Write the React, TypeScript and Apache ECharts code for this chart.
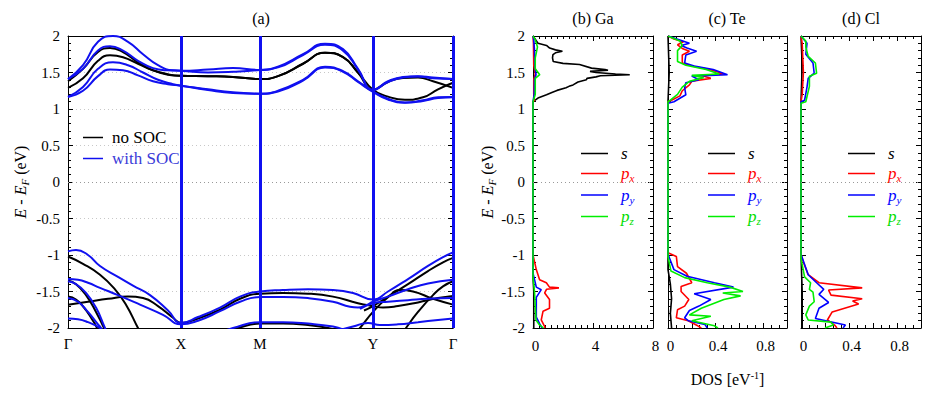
import React, { useEffect, useRef } from 'react';
import * as echarts from 'echarts';

const FONT = "'Liberation Serif', 'Times New Roman', serif";
const BLUE = '#1010f0';

// ---- band structure (k distance along path, energy eV) ----
const K_POS = [0, 113, 192, 305, 385];
const K_LABELS = ['Γ', 'X', 'M', 'Y', 'Γ'];
const V_LINES = [113, 192, 305, 385];

const NO_SOC_BANDS: number[][][] = [
  [[0,1.38],[15,1.55],[30,1.78],[42,1.835],[55,1.78],[70,1.64],[85,1.53],[100,1.47],[113,1.455],[140,1.45],[165,1.44],[192,1.41],[210,1.45],[235,1.62],[257,1.77],[275,1.71],[290,1.5],[305,1.265],[320,1.17],[337,1.127],[355,1.16],[370,1.27],[385,1.36]],
  [[0,1.29],[15,1.42],[30,1.66],[42,1.735],[55,1.71],[70,1.62],[85,1.53],[100,1.475],[113,1.455],[140,1.45],[165,1.44],[192,1.41],[210,1.45],[235,1.62],[257,1.77],[275,1.71],[290,1.5],[305,1.265],[320,1.37],[335,1.425],[350,1.43],[365,1.38],[385,1.29]],
  [[0,-1.02],[15,-1.12],[32,-1.27],[47,-1.47],[58,-1.68],[70,-2.0],[76,-2.15]],
  [[0,-1.35],[8,-1.40],[18,-1.55],[28,-1.78],[36,-2.0],[40,-2.15]],
  [[0,-1.57],[8,-1.61],[16,-1.72],[24,-1.88],[29,-2.0],[33,-2.15]],
  [[0,-1.68],[20,-1.64],[40,-1.60],[60,-1.57],[75,-1.59],[90,-1.70],[105,-1.86],[113,-1.93],[130,-1.87],[152,-1.75],[172,-1.60],[192,-1.53],[215,-1.52],[240,-1.53],[265,-1.57],[290,-1.66],[305,-1.70],[315,-1.72],[330,-1.70],[350,-1.65],[370,-1.59],[385,-1.56]],
  [[296,-1.76],[305,-1.70],[320,-1.57],[340,-1.40],[360,-1.22],[375,-1.10],[385,-1.04]],
  [[285,-2.1],[292,-2.0],[305,-1.78],[320,-1.58],[332,-1.48],[345,-1.5],[365,-1.6],[385,-1.68]],
  [[333,-2.1],[338,-2.0],[350,-1.78],[365,-1.55],[375,-1.43],[385,-1.36]],
  [[160,-2.05],[170,-2.0],[192,-1.94],[215,-1.94],[240,-1.96],[260,-2.0],[270,-2.05]],
];

const SOC_BANDS: number[][][] = [
  [[0,1.41],[15,1.6],[30,1.92],[45,2.0],[60,1.92],[75,1.75],[90,1.6],[105,1.53],[113,1.525],[140,1.54],[165,1.56],[192,1.535],[210,1.58],[235,1.75],[257,1.895],[275,1.82],[290,1.55],[305,1.265],[320,1.38],[335,1.44],[350,1.45],[365,1.43],[385,1.41]],
  [[0,1.41],[15,1.55],[30,1.8],[42,1.86],[55,1.8],[70,1.66],[85,1.56],[100,1.53],[113,1.525],[140,1.5],[165,1.51],[192,1.535],[210,1.57],[235,1.74],[257,1.88],[275,1.80],[290,1.54],[305,1.26],[320,1.37],[335,1.43],[350,1.445],[365,1.42],[385,1.41]],
  [[0,1.165],[15,1.3],[30,1.55],[45,1.64],[60,1.6],[75,1.5],[90,1.4],[105,1.34],[113,1.32],[140,1.26],[165,1.22],[192,1.21],[210,1.25],[235,1.4],[257,1.58],[275,1.52],[290,1.38],[305,1.24],[320,1.14],[337,1.09],[355,1.12],[370,1.16],[385,1.165]],
  [[0,1.165],[15,1.25],[30,1.45],[42,1.54],[55,1.53],[70,1.46],[85,1.38],[100,1.34],[113,1.32],[140,1.27],[165,1.23],[192,1.21],[210,1.24],[235,1.39],[257,1.57],[275,1.51],[290,1.37],[305,1.235],[320,1.13],[337,1.085],[355,1.11],[370,1.15],[385,1.16]],
  [[0,-0.95],[8,-0.93],[20,-1.0],[32,-1.15],[50,-1.3],[65,-1.42],[82,-1.55],[100,-1.76],[113,-1.93],[130,-1.85],[152,-1.72],[172,-1.57],[192,-1.50],[215,-1.48],[240,-1.47],[265,-1.48],[285,-1.52],[305,-1.61],[320,-1.50],[340,-1.33],[360,-1.15],[375,-1.03],[385,-0.965]],
  [[0,-1.33],[10,-1.34],[20,-1.38],[32,-1.45],[50,-1.55],[72,-1.68],[95,-1.82],[113,-1.95],[130,-1.90],[152,-1.77],[172,-1.64],[192,-1.575],[215,-1.575],[240,-1.59],[265,-1.64],[282,-1.71],[290,-1.72],[298,-1.69],[305,-1.64],[320,-1.57],[340,-1.47],[360,-1.39],[385,-1.34]],
  [[292,-1.74],[305,-1.66],[320,-1.64],[340,-1.62],[360,-1.60],[385,-1.59]],
  [[0,-1.36],[8,-1.40],[18,-1.52],[28,-1.72],[37,-2.0],[42,-2.15]],
  [[0,-1.59],[10,-1.64],[20,-1.78],[30,-1.95],[33,-2.0],[38,-2.15]],
  [[0,-1.87],[10,-1.88],[20,-1.92],[32,-2.0],[40,-2.1]],
  [[155,-2.05],[165,-2.0],[192,-1.92],[215,-1.92],[240,-1.94],[265,-1.98],[275,-2.02]],
  [[265,-2.05],[285,-1.98],[300,-1.93],[312,-1.96],[330,-1.95],[350,-1.92],[370,-1.89],[385,-1.87]],
];

// ---- projected DOS: [DOS, energy] ----
const GA_S = [[0,2.0],[0.33,1.9],[0.9,1.87],[1.11,1.835],[1.5,1.81],[1.96,1.79],[1.5,1.77],[1.33,1.745],[1.3,1.70],[1.35,1.65],[2.0,1.625],[3.1,1.61],[3.9,1.56],[4.8,1.54],[5.0,1.53],[3.8,1.515],[4.2,1.50],[5.5,1.48],[6.45,1.47],[4.5,1.455],[4.2,1.44],[3.6,1.42],[3.56,1.40],[3.0,1.37],[2.67,1.33],[2.4,1.31],[2.2,1.29],[1.6,1.255],[1.3,1.23],[0.9,1.195],[0.33,1.15],[0,1.10],[0,-1.3],[0.05,-1.5],[0.05,-2.0]];
const GA_PX = [[0,2.0],[0.03,1.9],[0.05,1.6],[0.15,1.48],[0.05,1.4],[0.05,1.2],[0.1,1.12],[0,1.1],[0,-1.0],[0.22,-1.2],[0.44,-1.34],[0.89,-1.38],[1.1,-1.44],[1.73,-1.45],[0.9,-1.47],[0.78,-1.52],[1.1,-1.61],[1.1,-1.73],[0.67,-1.77],[0.55,-1.89],[0.78,-1.98],[0.8,-2.0]];
const GA_PY = [[0,2.0],[0.05,1.95],[0.1,1.8],[0.12,1.6],[0.2,1.47],[0.1,1.4],[0.08,1.2],[0,1.1],[0,-1.25],[0.22,-1.44],[0.55,-1.475],[0.22,-1.58],[0.22,-1.85],[0.44,-1.94],[0.6,-2.0]];
const GA_PZ = [[0,2.0],[0.15,1.95],[0.3,1.85],[0.15,1.7],[0.15,1.55],[0.45,1.47],[0.15,1.42],[0.15,1.2],[0,1.1],[0,-1.3],[0.1,-1.5],[0.2,-1.89],[0.4,-1.95],[0.7,-2.0]];

const TE_S = [[0,2],[0.01,1.5],[0,1.1],[0,-1.2],[0.02,-1.4],[0.03,-1.6],[0.02,-1.8],[0.03,-2.0]];
const TE_PX = [[0,2.0],[0.05,1.96],[0.13,1.92],[0.08,1.88],[0.12,1.83],[0.18,1.79],[0.12,1.74],[0.12,1.63],[0.2,1.59],[0.35,1.54],[0.47,1.48],[0.28,1.46],[0.36,1.42],[0.2,1.38],[0.18,1.33],[0.12,1.25],[0.1,1.18],[0.03,1.12],[0,1.1],[0,-0.97],[0.07,-1.02],[0.08,-1.16],[0.155,-1.25],[0.2,-1.38],[0.11,-1.43],[0.11,-1.50],[0.175,-1.61],[0.14,-1.70],[0.08,-1.75],[0.07,-1.86],[0.17,-1.90],[0.25,-1.97],[0.28,-2.0]];
const TE_PY = [[0,2.0],[0.18,1.90],[0.11,1.87],[0.16,1.835],[0.24,1.79],[0.15,1.74],[0.14,1.63],[0.22,1.59],[0.38,1.54],[0.50,1.47],[0.2,1.45],[0.26,1.40],[0.15,1.36],[0.14,1.29],[0.15,1.195],[0.05,1.10],[0,1.08],[0,-0.99],[0.05,-1.2],[0.16,-1.29],[0.39,-1.38],[0.55,-1.44],[0.22,-1.53],[0.36,-1.61],[0.26,-1.70],[0.18,-1.76],[0.14,-1.86],[0.17,-1.9],[0.31,-1.95],[0.33,-2.0]];
const TE_PZ = [[0,2.0],[0.1,1.93],[0.12,1.87],[0.08,1.8],[0.08,1.65],[0.15,1.6],[0.32,1.54],[0.43,1.48],[0.2,1.46],[0.3,1.43],[0.18,1.38],[0.12,1.3],[0.08,1.2],[0.02,1.12],[0,1.1],[0,-1.02],[0.025,-1.22],[0.14,-1.31],[0.33,-1.38],[0.52,-1.44],[0.63,-1.50],[0.46,-1.52],[0.61,-1.56],[0.47,-1.61],[0.28,-1.73],[0.18,-1.82],[0.36,-1.84],[0.2,-1.9],[0.39,-1.97],[0.42,-2.0]];

const CL_S = [[0,2],[0.01,1.6],[0,1.1],[0,-1.0],[0.01,-1.5],[0.01,-2.0]];
const CL_PX = [[0,2.0],[0.01,1.9],[0.02,1.5],[0.01,1.2],[0,1.1],[0,-0.99],[0.02,-1.1],[0.06,-1.27],[0.15,-1.38],[0.51,-1.45],[0.23,-1.48],[0.25,-1.55],[0.51,-1.60],[0.43,-1.63],[0.48,-1.67],[0.26,-1.78],[0.22,-1.89],[0.28,-1.96],[0.3,-2.0]];
const CL_PY = [[0,2.0],[0.05,1.9],[0.04,1.75],[0.1,1.63],[0.11,1.49],[0.06,1.42],[0.05,1.3],[0.03,1.12],[0,1.1],[0,-0.99],[0.06,-1.27],[0.13,-1.38],[0.19,-1.47],[0.15,-1.54],[0.23,-1.65],[0.15,-1.73],[0.12,-1.87],[0.37,-1.96],[0.35,-2.0]];
const CL_PZ = [[0,2.0],[0.04,1.93],[0.04,1.85],[0.06,1.72],[0.12,1.63],[0.13,1.49],[0.07,1.45],[0.07,1.31],[0.04,1.10],[0,1.08],[0,-1.05],[0.03,-1.3],[0.08,-1.38],[0.07,-1.47],[0.1,-1.51],[0.11,-1.64],[0.07,-1.7],[0.04,-1.82],[0.06,-1.89],[0.25,-1.92],[0.27,-1.96],[0.2,-2.0]];

const ORBITALS = ['s', 'px', 'py', 'pz'];
const ORB_COLORS = ['#000000', '#ff0000', '#0000ff', '#00ee00'];
const DOS_PANELS = [
  { title: '(b) Ga', max: 8, interval: 4, minor: 10, labels: [0, 4, 8], data: [GA_S, GA_PX, GA_PY, GA_PZ] },
  { title: '(c) Te', max: 1, interval: 0.2, minor: 3, labels: [0, 0.4, 0.8], data: [TE_S, TE_PX, TE_PY, TE_PZ] },
  { title: '(d) Cl', max: 1, interval: 0.2, minor: 3, labels: [0, 0.4, 0.8], data: [CL_S, CL_PX, CL_PY, CL_PZ] },
];

const GRIDS = [
  { left: 68, top: 36, width: 385, height: 292 },
  { left: 533, top: 36, width: 120, height: 292 },
  { left: 668, top: 36, width: 119, height: 292 },
  { left: 801, top: 36, width: 120, height: 292 },
];
const TITLE_X = [261, 593, 727, 861];
const DOS_LEGEND_LEFT = [576, 703, 843];

const yNameRich = {
  i: { fontFamily: FONT, fontStyle: 'italic', fontSize: 16, color: '#000', lineHeight: 20 },
  n: { fontFamily: FONT, fontSize: 16, color: '#000', lineHeight: 20 },
  s: { fontFamily: FONT, fontStyle: 'italic', fontSize: 11, color: '#000', verticalAlign: 'bottom', lineHeight: 11 },
};
const Y_NAME = '{i|E}{n| - }{i|E}{s|F}{n| (eV)}';

const legendRich: any = {
  k: { fontFamily: FONT, fontStyle: 'italic', fontSize: 17, color: '#000', lineHeight: 20, padding: [0, 0, 0, 8] },
};
const LEGEND_FMT: Record<string, string> = {
  s: '{k|s}', px: '{r|p}{rs|x}', py: '{b|p}{bs|y}', pz: '{g|p}{gs|z}',
};
[['r', '#ff0000'], ['b', '#0000ff'], ['g', '#00dd00']].forEach(([k, c]) => {
  legendRich[k] = { fontFamily: FONT, fontStyle: 'italic', fontSize: 17, color: c, lineHeight: 20, padding: [0, 0, 0, 8] };
  legendRich[k + 's'] = { fontFamily: FONT, fontStyle: 'italic', fontSize: 11, color: c, verticalAlign: 'bottom', lineHeight: 11 };
});

function buildOption() {
  const labelStyle = { fontFamily: FONT, fontSize: 15, color: '#000' };
  const axisLine = { show: true, onZero: false, lineStyle: { color: '#000', width: 1 } };
  const xAxis: any[] = [];
  const yAxis: any[] = [];

  xAxis.push({
    type: 'value', gridIndex: 0, min: 0, max: 385, position: 'bottom',
    axisLine, axisTick: { show: false }, splitLine: { show: false },
    axisLabel: {
      ...labelStyle, margin: 8, customValues: K_POS,
      formatter: (v: number) => K_LABELS[K_POS.indexOf(v)] ?? '',
    },
  });
  xAxis.push({
    type: 'value', gridIndex: 0, min: 0, max: 385, position: 'top',
    axisLine, axisTick: { show: false }, splitLine: { show: false }, axisLabel: { show: false },
  });
  DOS_PANELS.forEach((p, i) => {
    const common = {
      type: 'value', gridIndex: i + 1, min: 0, max: p.max, interval: p.interval,
      axisLine,
      axisTick: { show: true, inside: true, length: 5, lineStyle: { color: '#000' } },
      minorTick: { show: true, splitNumber: p.minor, length: 3, lineStyle: { color: '#000' } },
      splitLine: { show: false },
    };
    xAxis.push({
      ...common, position: 'bottom',
      name: i === 1 ? '{n|DOS [eV}{sup|-1}{n|]}' : '',
      nameLocation: 'middle', nameGap: 42,
      nameTextStyle: {
        rich: {
          n: { fontFamily: FONT, fontSize: 16, color: '#000', lineHeight: 18 },
          sup: { fontFamily: FONT, fontSize: 10, color: '#000', verticalAlign: 'top', lineHeight: 10 },
        },
      },
      axisLabel: {
        ...labelStyle, margin: 10, padding: [0, 0, 0, 5],
        formatter: (v: number) => (p.labels.some((l) => Math.abs(l - v) < 1e-6) ? String(Math.round(v * 10) / 10) : ''),
      },
    });
    xAxis.push({ ...common, position: 'top', axisLabel: { show: false } });
  });

  GRIDS.forEach((_, g) => {
    const showLabels = g <= 1;
    const common = {
      type: 'value', gridIndex: g, min: -2, max: 2, interval: 0.5,
      axisLine,
      axisTick: { show: true, inside: true, length: 5, lineStyle: { color: '#000' } },
      minorTick: { show: true, splitNumber: 5, length: 3, lineStyle: { color: '#000' } },
    };
    yAxis.push({
      ...common, position: 'left',
      splitLine: g === 0 ? { show: true, lineStyle: { color: '#c8c8c8', type: [1, 3], width: 1 } } : { show: false },
      axisLabel: showLabels ? { ...labelStyle, margin: 8 } : { show: false },
      name: showLabels ? Y_NAME : '',
      nameLocation: 'middle', nameRotate: 90, nameGap: g === 0 ? 38 : 36,
      nameTextStyle: { rich: yNameRich },
    });
    yAxis.push({ ...common, position: 'right', splitLine: { show: false }, axisLabel: { show: false } });
  });

  const series: any[] = [];
  NO_SOC_BANDS.forEach((b, i) => {
    series.push({
      type: 'line', name: 'no SOC', xAxisIndex: 0, yAxisIndex: 0, data: b,
      showSymbol: false, symbol: 'none', smooth: 0.5, color: '#000',
      lineStyle: { color: '#000', width: 2 },
      ...(i === 0 ? {
        markLine: {
          silent: true, symbol: ['none', 'none'], label: { show: false },
          lineStyle: { color: '#999', type: [1, 3], width: 1 },
          data: [{ yAxis: 0 }],
        },
      } : {}),
    });
  });
  SOC_BANDS.forEach((b, i) => {
    series.push({
      type: 'line', name: 'with SOC', xAxisIndex: 0, yAxisIndex: 0, data: b,
      showSymbol: false, symbol: 'none', smooth: 0.5, color: BLUE,
      lineStyle: { color: BLUE, width: 2 },
      ...(i === 0 ? {
        markLine: {
          silent: true, symbol: ['none', 'none'], label: { show: false },
          lineStyle: { color: BLUE, type: 'solid', width: 3 },
          data: V_LINES.map((x) => ({ xAxis: x })),
        },
      } : {}),
    });
  });
  DOS_PANELS.forEach((p, i) => {
    p.data.forEach((d, j) => {
      series.push({
        type: 'line', name: ORBITALS[j], xAxisIndex: 2 * (i + 1), yAxisIndex: 2 * (i + 1), data: d,
        showSymbol: false, symbol: 'none', color: ORB_COLORS[j],
        lineStyle: { color: ORB_COLORS[j], width: 1.6 },
        ...(j === 0 ? {
          markLine: {
            silent: true, symbol: ['none', 'none'], label: { show: false },
            lineStyle: { color: '#999', type: [1, 3], width: 1 },
            data: [{ yAxis: 0 }],
          },
        } : {}),
      });
    });
  });

  const legend: any[] = [
    {
      left: 78, top: 124, orient: 'vertical', icon: 'rect', itemWidth: 20, itemHeight: 1.5, itemGap: 4,
      textStyle: { fontFamily: FONT, fontSize: 17, padding: [0, 0, 0, 4] },
      data: [
        { name: 'no SOC', textStyle: { color: '#000', fontFamily: FONT, fontSize: 17 } },
        { name: 'with SOC', textStyle: { color: '#3a3ad8', fontFamily: FONT, fontSize: 17 } },
      ],
      selectedMode: false,
    },
    ...DOS_LEGEND_LEFT.map((left) => ({
      left, top: 140, orient: 'vertical', icon: 'rect', itemWidth: 27, itemHeight: 1.5, itemGap: 3,
      data: ORBITALS, selectedMode: false,
      formatter: (n: string) => LEGEND_FMT[n],
      textStyle: { rich: legendRich },
    })),
  ];

  const titles = ['(a)', ...DOS_PANELS.map((p) => p.title)];
  const graphic = titles.map((t, i) => ({
    type: 'text', x: TITLE_X[i], y: 18,
    style: { text: t, fontFamily: FONT, fontSize: 16, fill: '#000', textAlign: 'center', textVerticalAlign: 'middle', align: 'center', verticalAlign: 'middle' },
  }));

  return {
    animation: false,
    backgroundColor: '#fff',
    textStyle: { fontFamily: FONT },
    grid: GRIDS.map((g) => ({ ...g, containLabel: false })),
    xAxis, yAxis, series, legend, graphic,
  };
}

export default function App() {
  const ref = useRef<HTMLDivElement>(null);
  useEffect(() => {
    if (!ref.current) return;
    const chart = echarts.init(ref.current, null, { renderer: 'svg' });
    chart.setOption(buildOption() as any);
    return () => chart.dispose();
  }, []);
  return <div ref={ref} style={{ position: 'fixed', left: 0, top: 0, width: 933, height: 396 }} />;
}
